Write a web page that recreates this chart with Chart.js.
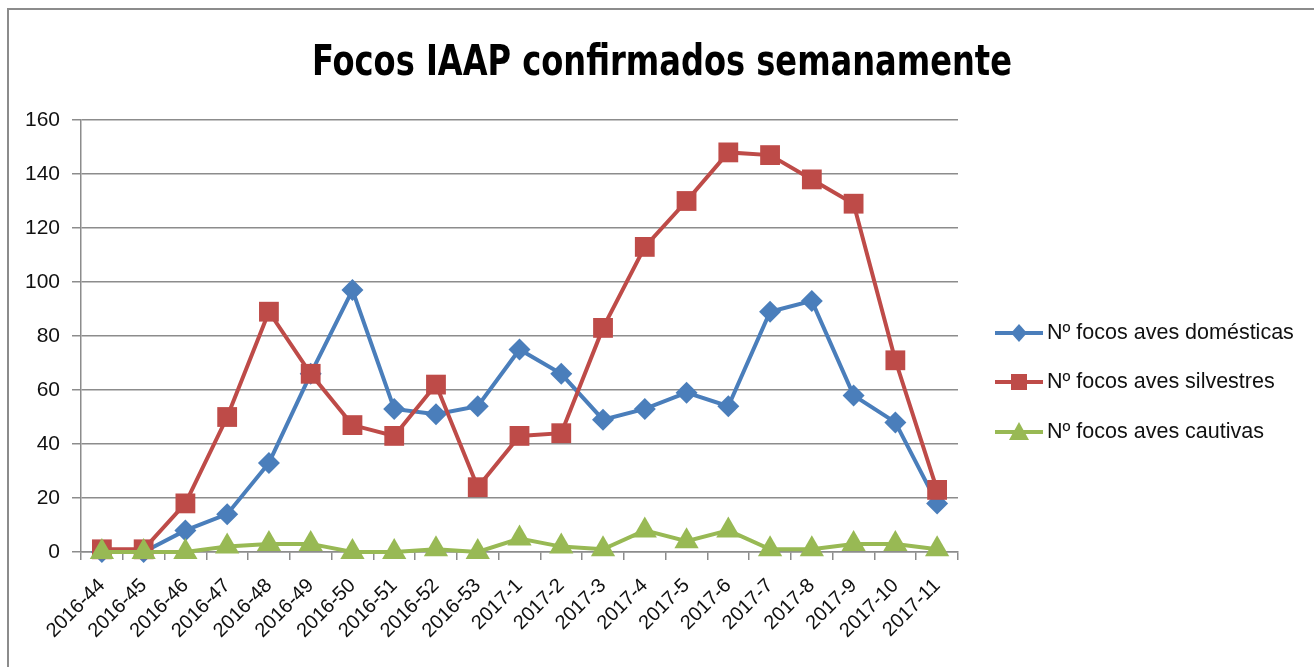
<!DOCTYPE html>
<html>
<head>
<meta charset="utf-8">
<script src="https://cdn.jsdelivr.net/npm/chart.js@4"></script>
<style>
  html, body { margin: 0; padding: 0; background: #fff; }
  #wrap { width: 1314px; height: 667px; position: relative; }
</style>
</head>
<body>
<div id="wrap"><canvas id="chart"></canvas></div>
<script>
const weeks = ['2016-44', '2016-45', '2016-46', '2016-47', '2016-48', '2016-49', '2016-50', '2016-51', '2016-52', '2016-53',
  '2017-1', '2017-2', '2017-3', '2017-4', '2017-5', '2017-6', '2017-7', '2017-8', '2017-9', '2017-10', '2017-11'];
const domesticas = [0, 0, 8, 14, 33, 66, 97, 53, 51, 54, 75, 66, 49, 53, 59, 54, 89, 93, 58, 48, 18];
const silvestres = [1, 1, 18, 50, 89, 66, 47, 43, 62, 24, 43, 44, 83, 113, 130, 148, 147, 138, 129, 71, 23];
const cautivas = [0, 0, 0, 2, 3, 3, 0, 0, 1, 0, 5, 2, 1, 8, 4, 8, 1, 1, 3, 3, 1];
const seriesNames = ['Nº focos aves domésticas', 'Nº focos aves silvestres', 'Nº focos aves cautivas'];
const seriesColors = ['#4a7ebb', '#be4b48', '#98b954'];
const yTicks = [0, 20, 40, 60, 80, 100, 120, 140, 160];
const titleText = 'Focos IAAP confirmados semanamente';

const FONT = "'Liberation Sans', Arial, sans-serif";
const TITLE_FONT = "'DejaVu Sans Condensed', 'DejaVu Sans', sans-serif";

// frame round the whole figure + title centred on the whole figure
const framePlugin = {
  id: 'frame',
  beforeDraw(chart) {
    const ctx = chart.ctx;
    ctx.save();
    ctx.strokeStyle = '#8c8c8c';
    ctx.lineWidth = 2;
    ctx.strokeRect(8, 9, chart.width + 10, chart.height + 10);
    ctx.fillStyle = '#000';
    ctx.font = 'bold 43px ' + TITLE_FONT;
    ctx.textAlign = 'center';
    ctx.textBaseline = 'alphabetic';
    // squeeze to the narrow width of the original title
    const sx = Math.min(1, 700 / ctx.measureText(titleText).width);
    ctx.translate(662, 75);
    ctx.scale(sx, 1);
    ctx.fillText(titleText, 0, 0);
    ctx.restore();
  }
};

// legend drawn as line + marker, like the spreadsheet one
const sideLegend = {
  id: 'sideLegend',
  afterDraw(chart) {
    const ctx = chart.ctx;
    const x0 = 995, rowY = [333, 382, 432];
    ctx.save();
    chart.data.datasets.forEach((ds, i) => {
      const y = rowY[i];
      ctx.strokeStyle = ds.borderColor;
      ctx.lineWidth = 4;
      ctx.beginPath();
      ctx.moveTo(x0, y);
      ctx.lineTo(x0 + 48, y);
      ctx.stroke();
      ctx.fillStyle = ds.backgroundColor;
      ctx.beginPath();
      const cx = x0 + 24;
      if (ds.pointStyle === 'rectRot') {
        ctx.moveTo(cx, y - 9); ctx.lineTo(cx + 8, y); ctx.lineTo(cx, y + 9); ctx.lineTo(cx - 8, y);
      } else if (ds.pointStyle === 'rect') {
        ctx.rect(cx - 8, y - 8, 16, 16);
      } else {
        ctx.moveTo(cx, y - 10); ctx.lineTo(cx + 10, y + 8); ctx.lineTo(cx - 10, y + 8);
      }
      ctx.closePath();
      ctx.fill();
      ctx.fillStyle = '#111';
      ctx.font = '21.5px ' + FONT;
      ctx.textBaseline = 'middle';
      ctx.fillText(ds.label, x0 + 52, y);
    });
    ctx.restore();
  }
};

function makeSet(label, data, color, style, radius, order) {
  return {
    label, data, order,
    borderColor: color,
    backgroundColor: color,
    borderWidth: 4,
    pointStyle: style,
    pointRadius: radius,
    pointHoverRadius: radius,
    pointBorderWidth: 0,
    clip: false,
    tension: 0
  };
}

new Chart(document.getElementById('chart'), {
  type: 'line',
  data: {
    labels: weeks,
    datasets: [
      makeSet(seriesNames[0], domesticas, seriesColors[0], 'rectRot', 11, 2),
      makeSet(seriesNames[1], silvestres, seriesColors[1], 'rect', 14, 1),
      makeSet(seriesNames[2], cautivas, seriesColors[2], 'triangle', 14, 0)
    ]
  },
  options: {
    responsive: true,
    maintainAspectRatio: false,
    animation: false,
    layout: { padding: { left: 20, right: 356, top: 120, bottom: 0 } },
    plugins: {
      legend: { display: false },
      tooltip: { enabled: false },
      title: { display: false }
    },
    scales: {
      x: {
        offset: true,
        afterFit(scale) { scale.height = 115; },
        grid: {
          offset: true,
          drawOnChartArea: false,
          drawTicks: true,
          tickLength: 8,
          color: '#8c8c8c',
          lineWidth: 1.5
        },
        border: { color: '#8c8c8c', width: 1.5 },
        ticks: {
          minRotation: 45,
          maxRotation: 45,
          autoSkip: false,
          color: '#111',
          padding: 14,
          font: { family: FONT, size: 20 }
        }
      },
      y: {
        min: 0,
        max: 160,
        afterFit(scale) { scale.width = 61; },
        afterBuildTicks(scale) { scale.ticks = yTicks.map(v => ({ value: v })); },
        grid: {
          color: '#8c8c8c',
          lineWidth: 1.5,
          tickLength: 9
        },
        border: { color: '#8c8c8c', width: 1.5 },
        ticks: {
          color: '#111',
          padding: 12,
          font: { family: FONT, size: 21 }
        }
      }
    }
  },
  plugins: [framePlugin, sideLegend]
});
</script>
</body>
</html>
